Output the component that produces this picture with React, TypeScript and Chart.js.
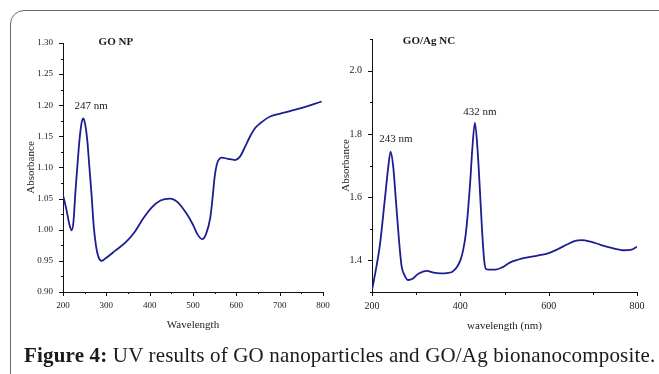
import React, { useEffect, useRef } from "react";
import { Chart, registerables } from "chart.js";

Chart.register(...registerables);

// ---------- GO NP (left panel) ----------
const goWavelength = [
  200, 208, 215, 220, 224, 229, 234, 238, 243, 247, 251, 256, 261, 266, 271, 276, 281, 289,
  300, 320, 345, 365, 385, 405, 425, 447, 465, 485, 500, 510, 521, 530, 540, 545, 550, 555,
  560, 566, 580, 597, 608, 620, 631, 643, 655, 678, 710, 747, 797,
];
const goAbsorbance = [
  1.056, 1.032, 1.008, 0.999, 1.012, 1.064, 1.11, 1.144, 1.172, 1.179, 1.17, 1.144, 1.1, 1.055,
  1.005, 0.975, 0.958, 0.95, 0.955, 0.966, 0.98, 0.996, 1.018, 1.036, 1.047, 1.05, 1.044, 1.026,
  1.008, 0.993, 0.985, 0.993, 1.02, 1.05, 1.085, 1.105, 1.113, 1.116, 1.114, 1.112, 1.117,
  1.133, 1.149, 1.163, 1.171, 1.182, 1.188, 1.195, 1.206,
];
const goXTicks = [200, 300, 400, 500, 600, 700, 800];
const goXMinor = [250, 350, 450, 550, 650, 750];
const goYTicks = [0.9, 0.95, 1.0, 1.05, 1.1, 1.15, 1.2, 1.25, 1.3];
const goYMinor = [0.925, 0.975, 1.025, 1.075, 1.125, 1.175, 1.225, 1.275];
const goNotes = [
  { x: 322, y: 1.302, text: "GO NP", bold: true, size: 11 },
  { x: 265, y: 1.199, text: "247 nm", bold: false, size: 11 },
];

// ---------- GO/Ag NC (right panel) ----------
const agWavelength = [
  200, 210, 218, 229, 237, 242, 248, 254, 261, 267, 274, 282, 292, 305, 324, 340, 354, 370,
  382, 392, 400, 406, 412, 417, 422, 427, 433, 439, 444, 449, 454, 458, 465, 480, 495, 512, 530,
  546, 575, 602, 620, 641, 660, 675, 695, 716, 740, 769, 788, 800,
];
const agAbsorbance = [
  1.306, 1.38, 1.45, 1.592, 1.697, 1.744, 1.697, 1.592, 1.466, 1.382, 1.352, 1.338, 1.342,
  1.358, 1.367, 1.361, 1.359, 1.36, 1.364, 1.378, 1.4, 1.43, 1.48, 1.55, 1.64, 1.75, 1.835,
  1.75, 1.63, 1.5, 1.4, 1.373, 1.371, 1.371, 1.378, 1.393, 1.402, 1.408, 1.415, 1.424, 1.435,
  1.45, 1.462, 1.464, 1.459, 1.45, 1.44, 1.432, 1.434, 1.443,
];
const agXTicks = [200, 400, 600, 800];
const agXMinor = [300, 500, 700];
const agYTicks = [1.4, 1.6, 1.8, 2.0];
const agYMinor = [1.3, 1.5, 1.7, 1.9, 2.1];
const agNotes = [
  { x: 329, y: 2.093, text: "GO/Ag NC", bold: true, size: 11 },
  { x: 254, y: 1.782, text: "243 nm", bold: false, size: 11 },
  { x: 444.5, y: 1.868, text: "432 nm", bold: false, size: 11 },
];

const SERIF = '"Liberation Serif", "Times New Roman", serif';
const LINE_COLOR = "#1d1d92";

const decorPlugin = {
  id: "decor",
  afterDraw(chart: any, _args: any, opts: any) {
    const { ctx, chartArea, scales } = chart;
    const xs = scales.x;
    const ys = scales.y;
    ctx.save();
    ctx.strokeStyle = "#111";
    ctx.lineWidth = 1;
    const left = Math.round(chartArea.left);
    const bottom = Math.round(chartArea.bottom);
    const hTick = (v: number, len: number) => {
      const y = Math.round(ys.getPixelForValue(v)) + 0.5;
      ctx.beginPath();
      ctx.moveTo(left, y);
      ctx.lineTo(left - len, y);
      ctx.stroke();
    };
    const vTick = (v: number, len: number) => {
      const x = Math.round(xs.getPixelForValue(v)) + 0.5;
      ctx.beginPath();
      ctx.moveTo(x, bottom);
      ctx.lineTo(x, bottom + len);
      ctx.stroke();
    };
    opts.yMajor.forEach((v: number) => hTick(v, 4));
    opts.yMinor.forEach((v: number) => hTick(v, 2));
    opts.xMajor.forEach((v: number) => vTick(v, 4));
    opts.xMinor.forEach((v: number) => vTick(v, opts.xMinorLen));
    ctx.fillStyle = "#1a1a1a";
    ctx.textAlign = "center";
    ctx.textBaseline = "middle";
    opts.notes.forEach((n: any) => {
      ctx.font = `${n.bold ? "bold " : ""}${n.size}px ${SERIF}`;
      ctx.fillText(n.text, xs.getPixelForValue(n.x), ys.getPixelForValue(n.y));
    });
    ctx.restore();
  },
};

type PanelCfg = {
  wl: number[];
  ab: number[];
  xTicks: number[];
  xMinor: number[];
  yTicks: number[];
  yMinor: number[];
  yMin: number;
  yMax: number;
  yDigits: number;
  notes: any[];
  xTitle: string;
  padding: { left: number; top: number; right: number; bottom: number };
  yWidth: number;
  xHeight: number;
  tickSize: number;
  xMinorLen: number;
};

function makeConfig(c: PanelCfg): any {
  return {
    type: "line",
    data: {
      datasets: [
        {
          data: c.wl.map((w, i) => ({ x: w, y: c.ab[i] })),
          borderColor: LINE_COLOR,
          borderWidth: 1.8,
          pointRadius: 0,
          fill: false,
          cubicInterpolationMode: "monotone",
        },
      ],
    },
    options: {
      responsive: false,
      animation: false,
      devicePixelRatio: 1,
      layout: { padding: c.padding },
      plugins: {
        legend: { display: false },
        tooltip: { enabled: false },
        decor: {
          xMajor: c.xTicks,
          xMinor: c.xMinor,
          yMajor: c.yTicks,
          yMinor: c.yMinor,
          notes: c.notes,
          xMinorLen: c.xMinorLen,
        },
      },
      scales: {
        x: {
          type: "linear",
          min: 200,
          max: 800,
          afterBuildTicks: (s: any) => {
            s.ticks = c.xTicks.map((v) => ({ value: v }));
          },
          afterFit: (s: any) => {
            s.height = c.xHeight;
          },
          grid: { display: true, drawOnChartArea: false, drawTicks: false },
          border: { display: true, color: "#111", width: 1 },
          ticks: {
            padding: 8,
            maxRotation: 0,
            autoSkip: false,
            color: "#222",
            font: { family: SERIF, size: c.tickSize },
            callback: (v: any) => String(Math.round(Number(v))),
          },
          title: {
            display: true,
            text: c.xTitle,
            color: "#222",
            padding: 0,
            font: { family: SERIF, size: 11 },
          },
        },
        y: {
          type: "linear",
          min: c.yMin,
          max: c.yMax,
          afterBuildTicks: (s: any) => {
            s.ticks = c.yTicks.map((v) => ({ value: v }));
          },
          afterFit: (s: any) => {
            s.width = c.yWidth;
          },
          grid: { display: true, drawOnChartArea: false, drawTicks: false },
          border: { display: true, color: "#111", width: 1 },
          ticks: {
            padding: 10,
            autoSkip: false,
            color: "#222",
            font: { family: SERIF, size: c.tickSize },
            callback: (v: any) => Number(v).toFixed(c.yDigits),
          },
          title: {
            display: true,
            text: "Absorbance",
            color: "#222",
            padding: 0,
            font: { family: SERIF, size: 11 },
          },
        },
      },
    },
    plugins: [decorPlugin],
  };
}

function Panel(props: { cfg: PanelCfg; left: number; width: number; height: number }) {
  const ref = useRef<HTMLCanvasElement | null>(null);
  useEffect(() => {
    if (!ref.current) return;
    const chart = new Chart(ref.current, makeConfig(props.cfg));
    return () => chart.destroy();
  }, []);
  return (
    <canvas
      ref={ref}
      width={props.width}
      height={props.height}
      style={{
        position: "absolute",
        left: props.left,
        top: 0,
        width: props.width,
        height: props.height,
      }}
    />
  );
}

const goCfg: PanelCfg = {
  wl: goWavelength,
  ab: goAbsorbance,
  xTicks: goXTicks,
  xMinor: goXMinor,
  yTicks: goYTicks,
  yMinor: goYMinor,
  yMin: 0.9,
  yMax: 1.3,
  yDigits: 2,
  notes: goNotes,
  xTitle: "Wavelength",
  padding: { left: 25, top: 43, right: 17, bottom: 13 },
  yWidth: 38,
  xHeight: 40,
  tickSize: 9,
  xMinorLen: 2,
};

const agCfg: PanelCfg = {
  wl: agWavelength,
  ab: agAbsorbance,
  xTicks: agXTicks,
  xMinor: agXMinor,
  yTicks: agYTicks,
  yMinor: agYMinor,
  yMin: 1.3,
  yMax: 2.1,
  yDigits: 1,
  notes: agNotes,
  xTitle: "wavelength (nm)",
  padding: { left: 10, top: 39, right: 22, bottom: 12 },
  yWidth: 32,
  xHeight: 41,
  tickSize: 10,
  xMinorLen: 3,
};

export default function App() {
  return (
    <div
      style={{
        position: "absolute",
        left: 0,
        top: 0,
        width: 659,
        height: 374,
        overflow: "hidden",
        background: "#fff",
      }}
    >
      <div
        style={{
          position: "absolute",
          left: 10,
          top: 10,
          width: 720,
          height: 420,
          border: "1.5px solid #6a6a6a",
          borderRadius: 14,
          boxSizing: "border-box",
        }}
      />
      <Panel cfg={goCfg} left={0} width={340} height={345} />
      <Panel cfg={agCfg} left={330} width={329} height={345} />
      <div
        style={{
          position: "absolute",
          left: 24,
          top: 345,
          fontFamily: SERIF,
          fontSize: 21,
          letterSpacing: "0.17px",
          lineHeight: "21px",
          color: "#1a1a1a",
          whiteSpace: "nowrap",
        }}
      >
        <b>Figure 4:</b> UV results of GO nanoparticles and GO/Ag bionanocomposite.
      </div>
    </div>
  );
}
